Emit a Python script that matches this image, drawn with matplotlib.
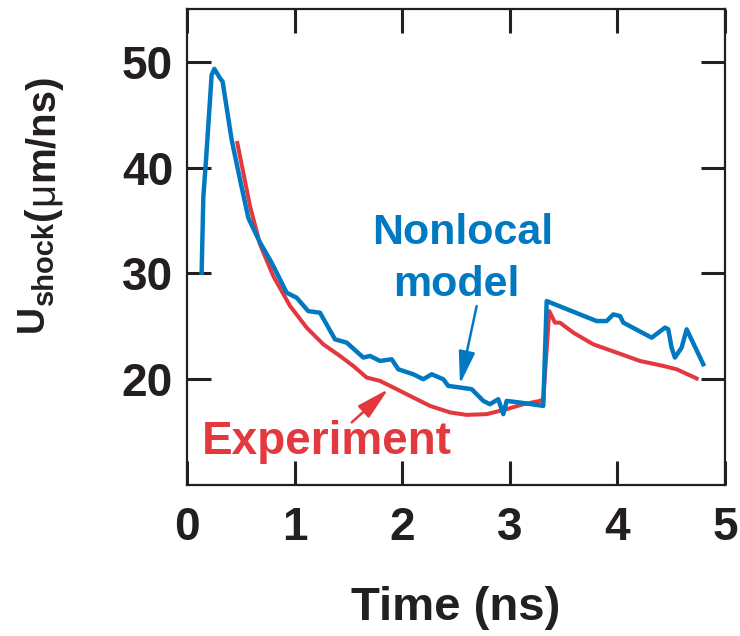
import matplotlib
matplotlib.use("Agg")
import matplotlib.pyplot as plt

plt.rcParams["font.family"] = ["Liberation Sans", "DejaVu Sans"]
plt.rcParams["font.weight"] = "bold"

# Nonlocal model (blue)
model_t = [0.136, 0.152, 0.177, 0.229, 0.254, 0.307, 0.331, 0.415, 0.493, 0.570,
           0.679, 0.787, 0.926, 1.019, 1.127, 1.236, 1.376, 1.484, 1.639, 1.701,
           1.794, 1.902, 1.964, 2.103, 2.196, 2.274, 2.382, 2.428, 2.537, 2.646,
           2.754, 2.815, 2.893, 2.940, 2.971, 3.094, 3.311, 3.343, 3.807, 3.900,
           3.962, 4.025, 4.055, 4.319, 4.443, 4.473, 4.504, 4.535, 4.597, 4.644,
           4.798]
model_u = [30.07, 37.29, 40.75, 48.77, 49.34, 48.46, 48.14, 42.64, 38.87, 35.25,
           32.92, 31.01, 28.18, 27.71, 26.44, 26.29, 23.77, 23.46, 22.05, 22.20,
           21.73, 21.89, 20.94, 20.47, 20.00, 20.47, 20.00, 19.37, 19.22, 19.06,
           17.95, 17.64, 18.11, 16.70, 17.95, 17.80, 17.48, 27.39, 25.50, 25.50,
           26.13, 25.97, 25.35, 23.93, 24.88, 24.72, 22.99, 22.05, 22.99, 24.72,
           21.42]

# Experiment (red)
exp_t = [0.468, 0.586, 0.679, 0.802, 0.958, 1.112, 1.267, 1.422, 1.546, 1.670,
         1.794, 1.949, 2.103, 2.259, 2.445, 2.599, 2.785, 2.971, 3.126, 3.280,
         3.311, 3.367, 3.420, 3.466, 3.590, 3.776, 3.993, 4.209, 4.426, 4.551,
         4.737]
exp_u = [42.33, 36.35, 32.74, 29.75, 26.92, 24.88, 23.30, 22.20, 21.25, 20.16,
         19.84, 19.06, 18.27, 17.48, 16.86, 16.63, 16.70, 17.17, 17.64, 17.95,
         18.11, 26.44, 25.35, 25.35, 24.41, 23.30, 22.52, 21.73, 21.26, 20.94,
         20.07]

red = "#e4383f"
blue = "#0079c1"
ink = "#231f20"

fig = plt.figure(figsize=(7.4, 6.36), dpi=100)
ax = fig.add_axes([0.2527, 0.2374, 0.727, 0.7484])

ax.plot(exp_t, exp_u, color=red, lw=2.9, solid_joinstyle="round")
ax.plot(model_t, model_u, color=blue, lw=3.2, solid_joinstyle="round")

ax.set_xlim(0, 5)
ax.set_ylim(10, 55)
ax.set_xticks([0, 1, 2, 3, 4, 5])
ax.set_yticks([20, 30, 40, 50])
ax.tick_params(direction="in", top=True, right=True, length=17, width=2.2,
               color=ink, labelsize=33, labelcolor=ink)
ax.tick_params(axis="x", pad=15)
ax.tick_params(axis="y", pad=10)
for s in ax.spines.values():
    s.set_linewidth(1.6)
    s.set_color(ink)

ax.set_xlabel("Time (ns)", fontsize=34, fontweight="bold", color=ink, labelpad=26)

# labels on the curves
ax.text(2.565, 32.74, "Nonlocal", color=blue, fontsize=31, fontweight="bold",
        ha="center", va="baseline")
ax.text(2.50, 27.83, "model", color=blue, fontsize=31, fontweight="bold",
        ha="center", va="baseline")
ax.text(1.301, 12.92, "Experiment", color=red, fontsize=33, fontweight="bold",
        ha="center", va="baseline")
ax.annotate("", xy=(2.537, 19.53), xytext=(2.692, 26.92),
            arrowprops=dict(arrowstyle="-|>,head_length=1.0,head_width=0.25",
                            mutation_scale=20, lw=1.8, color=blue, shrinkA=0, shrinkB=0))
ax.annotate("", xy=(1.871, 19.06), xytext=(1.531, 15.92),
            arrowprops=dict(arrowstyle="-|>,head_length=1.0,head_width=0.25",
                            mutation_scale=20, lw=1.8, color=red, shrinkA=0, shrinkB=0))

# y label built in pieces: U, subscript, units
W, H = 740, 636
fig.canvas.draw()
r = fig.canvas.get_renderer()
pieces = [
    ("U", 43, 27, "bold", 0),
    ("shock", 53, 21, "bold", 1),
    ("(", 53, 29, "bold", 2),
    ("\u03bc", 53, 29, "normal", 0),
    ("m/ns)", 53, 29, "bold", 0),
]
y = 332
for txt, xb, fs, fw, gap in pieces:
    t = fig.text(xb / W, 1 - y / H, txt, rotation=90, rotation_mode="anchor",
                 ha="left", va="baseline", fontsize=fs, fontweight=fw, color=ink)
    e = t.get_window_extent(r)
    y = H - e.y1 - gap

plt.savefig("out.png", dpi=100)
